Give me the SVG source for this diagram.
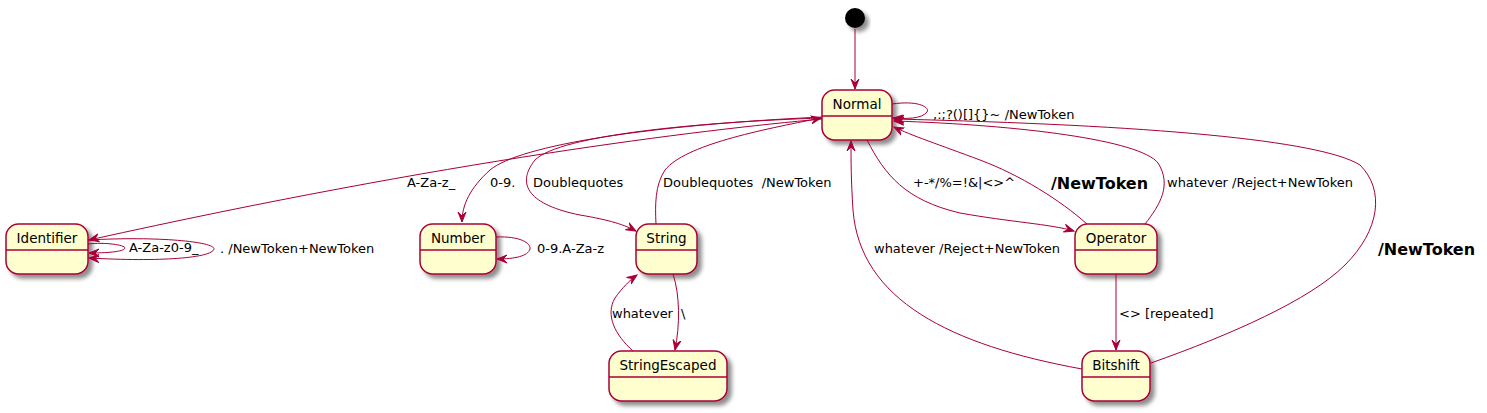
<svg xmlns="http://www.w3.org/2000/svg" width="1487" height="413" viewBox="0 0 1487 413">
<style>
.st{fill:#FEFECE;stroke:#A80036;stroke-width:1.5;filter:url(#sh)}
.dv{stroke:#A80036;stroke-width:1.5}
.nm{font-family:"DejaVu Sans","Liberation Sans",sans-serif;font-size:13.5px;fill:#000;text-anchor:middle}
.e{fill:none;stroke:#A80036;stroke-width:1;marker-end:url(#ah)}
.lb{font-family:"DejaVu Sans","Liberation Sans",sans-serif;font-size:13px;fill:#000;white-space:pre}
.bl{font-family:"DejaVu Sans","Liberation Sans",sans-serif;font-size:16px;font-weight:bold;fill:#000}
</style>
<defs>
<filter id="sh" x="-20%" y="-20%" width="150%" height="160%">
<feGaussianBlur in="SourceAlpha" stdDeviation="2"/>
<feOffset dx="4" dy="4" result="o"/>
<feComponentTransfer in="o" result="s"><feFuncA type="linear" slope="0.45"/></feComponentTransfer>
<feMerge><feMergeNode in="s"/><feMergeNode in="SourceGraphic"/></feMerge>
</filter>
<marker id="ah" markerWidth="12" markerHeight="10" refX="10" refY="5" orient="auto" markerUnits="userSpaceOnUse">
<path d="M0,1 L10,5 L0,9 L4,5 Z" fill="#A80036" stroke="#A80036" stroke-width="1"/>
</marker>
</defs>
<rect width="1487" height="413" fill="#fff"/>

<g id="start">
<circle cx="855" cy="18" r="10" fill="#000" filter="url(#sh)"/>
</g>

<g id="Normal">
<rect class="st" x="822" y="90" width="70" height="50" rx="12.5"/>
<line class="dv" x1="822" y1="116" x2="892" y2="116"/>
<text class="nm" x="857" y="109">Normal</text>
</g>
<g id="Identifier">
<rect class="st" x="6" y="224" width="82" height="50" rx="12.5"/>
<line class="dv" x1="6" y1="250" x2="88" y2="250"/>
<text class="nm" x="47" y="243">Identifier</text>
</g>
<g id="Number">
<rect class="st" x="420" y="224" width="76" height="50" rx="12.5"/>
<line class="dv" x1="420" y1="250" x2="496" y2="250"/>
<text class="nm" x="458" y="243">Number</text>
</g>
<g id="String">
<rect class="st" x="636" y="224" width="61" height="50" rx="12.5"/>
<line class="dv" x1="636" y1="250" x2="697" y2="250"/>
<text class="nm" x="666.5" y="243">String</text>
</g>
<g id="Operator">
<rect class="st" x="1075" y="224" width="82" height="50" rx="12.5"/>
<line class="dv" x1="1075" y1="250" x2="1157" y2="250"/>
<text class="nm" x="1116" y="243">Operator</text>
</g>
<g id="StringEscaped">
<rect class="st" x="609" y="351" width="118" height="50" rx="12.5"/>
<line class="dv" x1="609" y1="377" x2="727" y2="377"/>
<text class="nm" x="668" y="370">StringEscaped</text>
</g>
<g id="Bitshift">
<rect class="st" x="1082" y="351" width="68" height="50" rx="12.5"/>
<line class="dv" x1="1082" y1="377" x2="1150" y2="377"/>
<text class="nm" x="1116" y="370">Bitshift</text>
</g>

<g id="connectors">
<path class="e" d="M855,29 L855,89"/>

<path class="e" d="M892,104 C920,100 930,108 927,112 C922,119 905,119 893,118"/>
<text class="lb" x="933" y="119">,:;?()[]{}~ /NewToken</text>

<path class="e" d="M822,119 C700,130 450,160 89,240"/>
<text class="lb" x="407" y="187">A-Za-z_</text>

<path class="e" d="M88,244 C105,242 125,245 125,248 C124,252 105,253 89,253"/>
<text class="lb" x="129" y="252">A-Za-z0-9_</text>
<path class="e" d="M88,240 C160,236 215,242 214,249 C212,258 160,262 89,258"/>
<text class="lb" x="220" y="253">. /NewToken+NewToken</text>

<path class="e" d="M822,117 C650,125 520,145 490,170 C470,188 462,205 462,222"/>
<text class="lb" x="490" y="187">0-9.</text>

<path class="e" d="M496,237 C520,236 531,243 530,249 C528,256 515,259 497,259"/>
<text class="lb" x="537" y="253">0-9.A-Za-z</text>

<path class="e" d="M822,118 C700,122 560,135 535,160 C515,185 530,205 580,215 C610,220 625,225 636,231"/>
<text class="lb" x="533" y="187">Doublequotes</text>

<path class="e" d="M656,224 C655,205 655,185 665,170 C685,145 760,130 821,118"/>
<text class="lb" x="663" y="187" xml:space="preserve">Doublequotes  /NewToken</text>

<path class="e" d="M673,274 C680,295 680,325 675,350"/>
<text class="lb" x="681" y="318">\</text>

<path class="e" d="M633,351 C615,335 605,315 615,298 C622,288 630,280 637,275"/>
<text class="lb" x="612" y="318">whatever</text>

<path class="e" d="M867,140 C885,175 905,200 960,213 C1010,222 1050,224 1074,231"/>
<text class="lb" x="913" y="187">+-*/%=!&amp;|&lt;&gt;^</text>

<path class="e" d="M1087,224 C1060,200 1020,175 980,160 C940,145 910,135 894,127"/>
<text class="bl" x="1051" y="189">/NewToken</text>

<path class="e" d="M1145,224 C1160,205 1172,185 1158,163 C1140,140 1020,125 894,121"/>
<text class="lb" x="1167" y="187">whatever /Reject+NewToken</text>

<path class="e" d="M1116,274 L1116,350"/>
<text class="lb" x="1119" y="318">&lt;&gt; [repeated]</text>

<path class="e" d="M1082,369 C950,345 860,300 853,210 C851,180 851,160 851,141"/>
<text class="lb" x="874" y="253">whatever /Reject+NewToken</text>

<path class="e" d="M1151,363 C1230,335 1310,300 1345,265 C1380,230 1385,190 1360,165 C1320,140 1150,125 894,119"/>
<text class="bl" x="1378" y="255">/NewToken</text>
</g>
</svg>
